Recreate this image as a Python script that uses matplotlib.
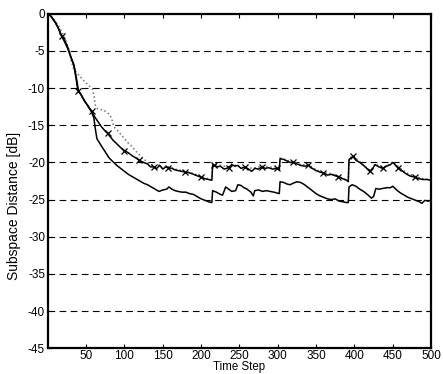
import matplotlib
matplotlib.use("Agg")
import matplotlib.pyplot as plt

plt.rcParams['font.family'] = ['Liberation Sans', 'DejaVu Sans']

# Upper solid curve with x markers
upper_x = [0, 3, 6, 10, 14, 18, 22, 26, 30, 34, 37, 40, 44, 48, 52, 57, 62, 66, 70, 75, 78,
           85, 90, 95, 100, 105, 110, 115, 119, 125, 130, 134, 138, 142, 146, 150, 154, 157,
           162, 166, 170, 175, 179, 185, 190, 195, 200, 205, 210, 214, 215, 217, 221, 225,
           230, 233, 236, 240, 244, 248, 252, 257, 262, 266, 270, 275, 279, 284, 288, 293,
           299, 302, 303, 308, 312, 316, 320, 325, 330, 335, 340, 345, 350, 355, 359, 365,
           370, 375, 379, 385, 390, 392, 393, 398, 402, 407, 412, 417, 420, 424, 427, 432,
           437, 442, 447, 450, 457, 462, 467, 472, 479, 485, 490, 495, 500]
upper_y = [0, -0.2, -0.6, -1.2, -2.0, -3.0, -3.6, -4.5, -5.8, -6.8, -8.5, -10.4, -11.0, -11.8,
           -12.3, -13.1, -14.0, -14.6, -15.2, -15.8, -16.1, -17.0, -17.5, -18.0, -18.4, -18.7,
           -19.1, -19.4, -19.7, -20.0, -20.2, -20.6, -20.6, -20.8, -20.4, -20.9, -20.6, -20.7,
           -20.8, -21.0, -21.1, -21.2, -21.3, -21.4, -21.6, -21.8, -22.0, -22.2, -22.3, -22.4,
           -20.4, -20.4, -20.6, -20.5, -20.9, -20.8, -20.7, -20.3, -20.5, -20.4, -20.8, -20.6,
           -20.9, -21.2, -20.8, -20.9, -20.6, -20.8, -20.7, -20.9, -20.8, -21.0, -19.5, -19.6,
           -19.8, -20.0, -20.0, -20.2, -20.4, -20.5, -20.4, -20.8, -21.1, -21.3, -21.4, -21.7,
           -21.6, -21.8, -21.9, -22.2, -22.4, -22.6, -19.6, -19.2, -19.7, -20.0, -20.4, -20.9,
           -21.2, -20.8, -20.3, -20.6, -20.8, -20.5, -20.3, -20.0, -20.7, -21.1, -21.5, -21.8,
           -22.0, -22.2, -22.3, -22.3, -22.4]
marker_steps = [18, 40, 57, 78, 100, 119, 138, 157, 179, 200, 217, 236, 257, 279, 299, 320,
                340, 359, 379, 398, 420, 437, 457, 479]

# Dotted grey curve
dot_x = [0, 5, 10, 15, 20, 25, 28, 31, 34, 40, 45, 50, 55, 58, 60, 62, 65, 70, 75, 80, 83,
         86, 90, 95, 100, 105, 110, 115, 120, 125, 130, 135, 140, 146, 150, 155, 160, 170,
         180, 190, 200, 210, 214, 215, 225, 235, 240, 250, 260, 270, 280, 290, 302, 303,
         312, 320, 330, 340, 350, 360, 370, 380, 392, 393, 398, 407, 417, 421, 427, 437,
         447, 450, 460, 470, 480, 490, 500]
dot_y = [0, -0.4, -1.0, -1.8, -2.8, -4.0, -5.0, -6.5, -7.5, -8.2, -8.8, -9.3, -9.8, -10.1,
         -11.0, -12.3, -12.8, -12.9, -13.1, -13.5, -14.0, -15.2, -15.6, -16.2, -16.8, -17.4,
         -17.9, -18.5, -19.0, -19.5, -20.0, -20.3, -20.6, -20.3, -20.8, -20.5, -20.7, -21.0,
         -21.2, -21.5, -21.9, -22.2, -22.3, -20.2, -20.4, -20.6, -20.2, -20.6, -20.8, -20.7,
         -20.5, -20.6, -20.9, -19.4, -19.7, -19.9, -20.3, -20.3, -21.0, -21.4, -21.5, -21.9,
         -22.5, -19.5, -19.1, -19.9, -20.8, -21.1, -20.2, -20.7, -20.2, -19.9, -20.8, -21.5,
         -21.9, -22.2, -22.3]

# Lower solid curve
low_x = [0, 3, 6, 10, 14, 18, 22, 26, 30, 34, 37, 39, 44, 48, 52, 57, 60, 62, 64, 70, 75,
         80, 85, 90, 95, 100, 105, 110, 115, 120, 125, 130, 135, 140, 145, 150, 155, 158,
         162, 166, 170, 175, 180, 185, 190, 195, 200, 205, 210, 214, 215, 220, 225, 228,
         232, 236, 240, 245, 248, 252, 256, 260, 265, 268, 270, 275, 280, 285, 290, 295,
         302, 303, 308, 312, 316, 320, 325, 330, 335, 340, 345, 350, 355, 360, 365, 370,
         375, 380, 385, 390, 392, 393, 397, 402, 407, 412, 418, 422, 425, 428, 432, 437,
         442, 447, 450, 455, 460, 465, 470, 475, 480, 485, 488, 492, 496, 500]
low_y = [0, -0.2, -0.6, -1.2, -2.0, -3.0, -3.8, -4.7, -5.8, -7.0, -8.8, -10.2, -11.0, -11.7,
         -12.4, -13.2, -14.0, -15.5, -16.8, -17.8, -18.6, -19.4, -19.9, -20.4, -20.8, -21.2,
         -21.6, -21.9, -22.2, -22.5, -22.8, -23.0, -23.3, -23.6, -23.9, -23.7, -23.6, -23.3,
         -23.6, -23.8, -23.9, -24.0, -24.0, -24.2, -24.3, -24.6, -24.9, -25.1, -25.3, -25.4,
         -23.8, -24.0, -24.3, -24.4, -23.3, -23.6, -23.9, -23.8, -23.0, -23.1, -23.4, -23.6,
         -24.0, -24.5, -23.8, -23.7, -23.9, -23.8, -23.9, -24.0, -24.2, -22.6, -22.7, -22.9,
         -23.0, -22.8, -22.6, -22.7, -23.0, -23.4, -23.8, -24.2, -24.5, -24.7, -24.9, -25.0,
         -24.9, -25.2, -25.3, -25.4, -25.4, -23.3, -23.0, -23.2, -23.6, -23.9, -24.4, -24.8,
         -24.6, -23.5, -23.6, -23.5, -23.4, -23.4, -23.2, -23.7, -24.1, -24.4, -24.7, -24.9,
         -25.1, -25.3, -25.5, -25.1, -25.2, -25.1]

x_ticks = [50, 100, 150, 200, 250, 300, 350, 400, 450, 500]
y_ticks = [0, -5, -10, -15, -20, -25, -30, -35, -40, -45]

fig = plt.figure(figsize=(4.43, 3.74), dpi=100)
ax = fig.add_axes([0.108, 0.069, 0.865, 0.894])

for yv in y_ticks[1:-1]:
    ax.axhline(yv, color='black', lw=0.8, dashes=(6, 4), zorder=1)

ax.plot(dot_x, dot_y, color='0.45', lw=1.1, ls=':', zorder=2)
ax.plot(low_x, low_y, color='black', lw=1.1, zorder=3)
mk = [i for i, v in enumerate(upper_x) if v in marker_steps]
ax.plot(upper_x, upper_y, color='black', lw=1.1, marker='x', markersize=5,
        markeredgewidth=0.9, markevery=mk, zorder=4)

ax.set_xlim(0, 500)
ax.set_ylim(-45, 0)
ax.set_xticks(x_ticks)
ax.set_yticks(y_ticks)
ax.set_xticklabels([str(v) for v in x_ticks])
ax.set_yticklabels([str(v) for v in y_ticks])
ax.tick_params(direction='in', top=True, right=True, length=3, width=0.8,
               labelsize=8.5, pad=2)
ax.tick_params(axis='x', pad=1)
for s in ax.spines.values():
    s.set_linewidth(1.6)

ax.set_xlabel('Time Step', fontsize=8.3, labelpad=-0.5)
ax.set_ylabel('Subspace Distance [dB]', fontsize=10)
ax.yaxis.set_label_coords(-0.07, 0.424)

fig.savefig('out.png', dpi=100)
